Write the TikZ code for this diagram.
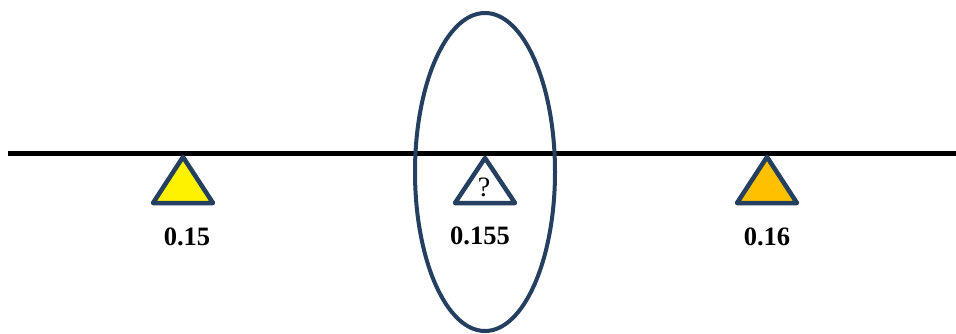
\documentclass[tikz,border=0pt]{standalone}
\usepackage{fontspec}
\setmainfont{Liberation Serif}
\definecolor{navy}{HTML}{243F60}
\definecolor{gold}{HTML}{FFC000}
\begin{document}
\begin{tikzpicture}[x=1pt,y=-1pt,
  marker/.style={draw=navy,line width=4.5pt,line join=round},
  val/.style={font=\bfseries\fontsize{26.5}{30}\selectfont,inner sep=0pt}]
\useasboundingbox (0,0) rectangle (956,334);
\draw[line width=5pt] (8,154) -- (956,154);
\draw[navy,line width=4pt] (485,172) ellipse [x radius=70, y radius=159];
\filldraw[marker,fill=yellow] (183,157) -- (213,203) -- (153,203) -- cycle;
\filldraw[marker,fill=white] (485,158) -- (515,203) -- (455,203) -- cycle;
\filldraw[marker,fill=gold] (767,157) -- (797,203) -- (737,203) -- cycle;
\node[inner sep=0pt,font=\fontsize{28}{32}\selectfont] (q) at (484,187.5) {?};
\node[val] (a) at (187,237) {0.15};
\node[val] (b) at (480,236) {0.155};
\node[val] (c) at (767,237) {0.16};
\end{tikzpicture}
\end{document}
